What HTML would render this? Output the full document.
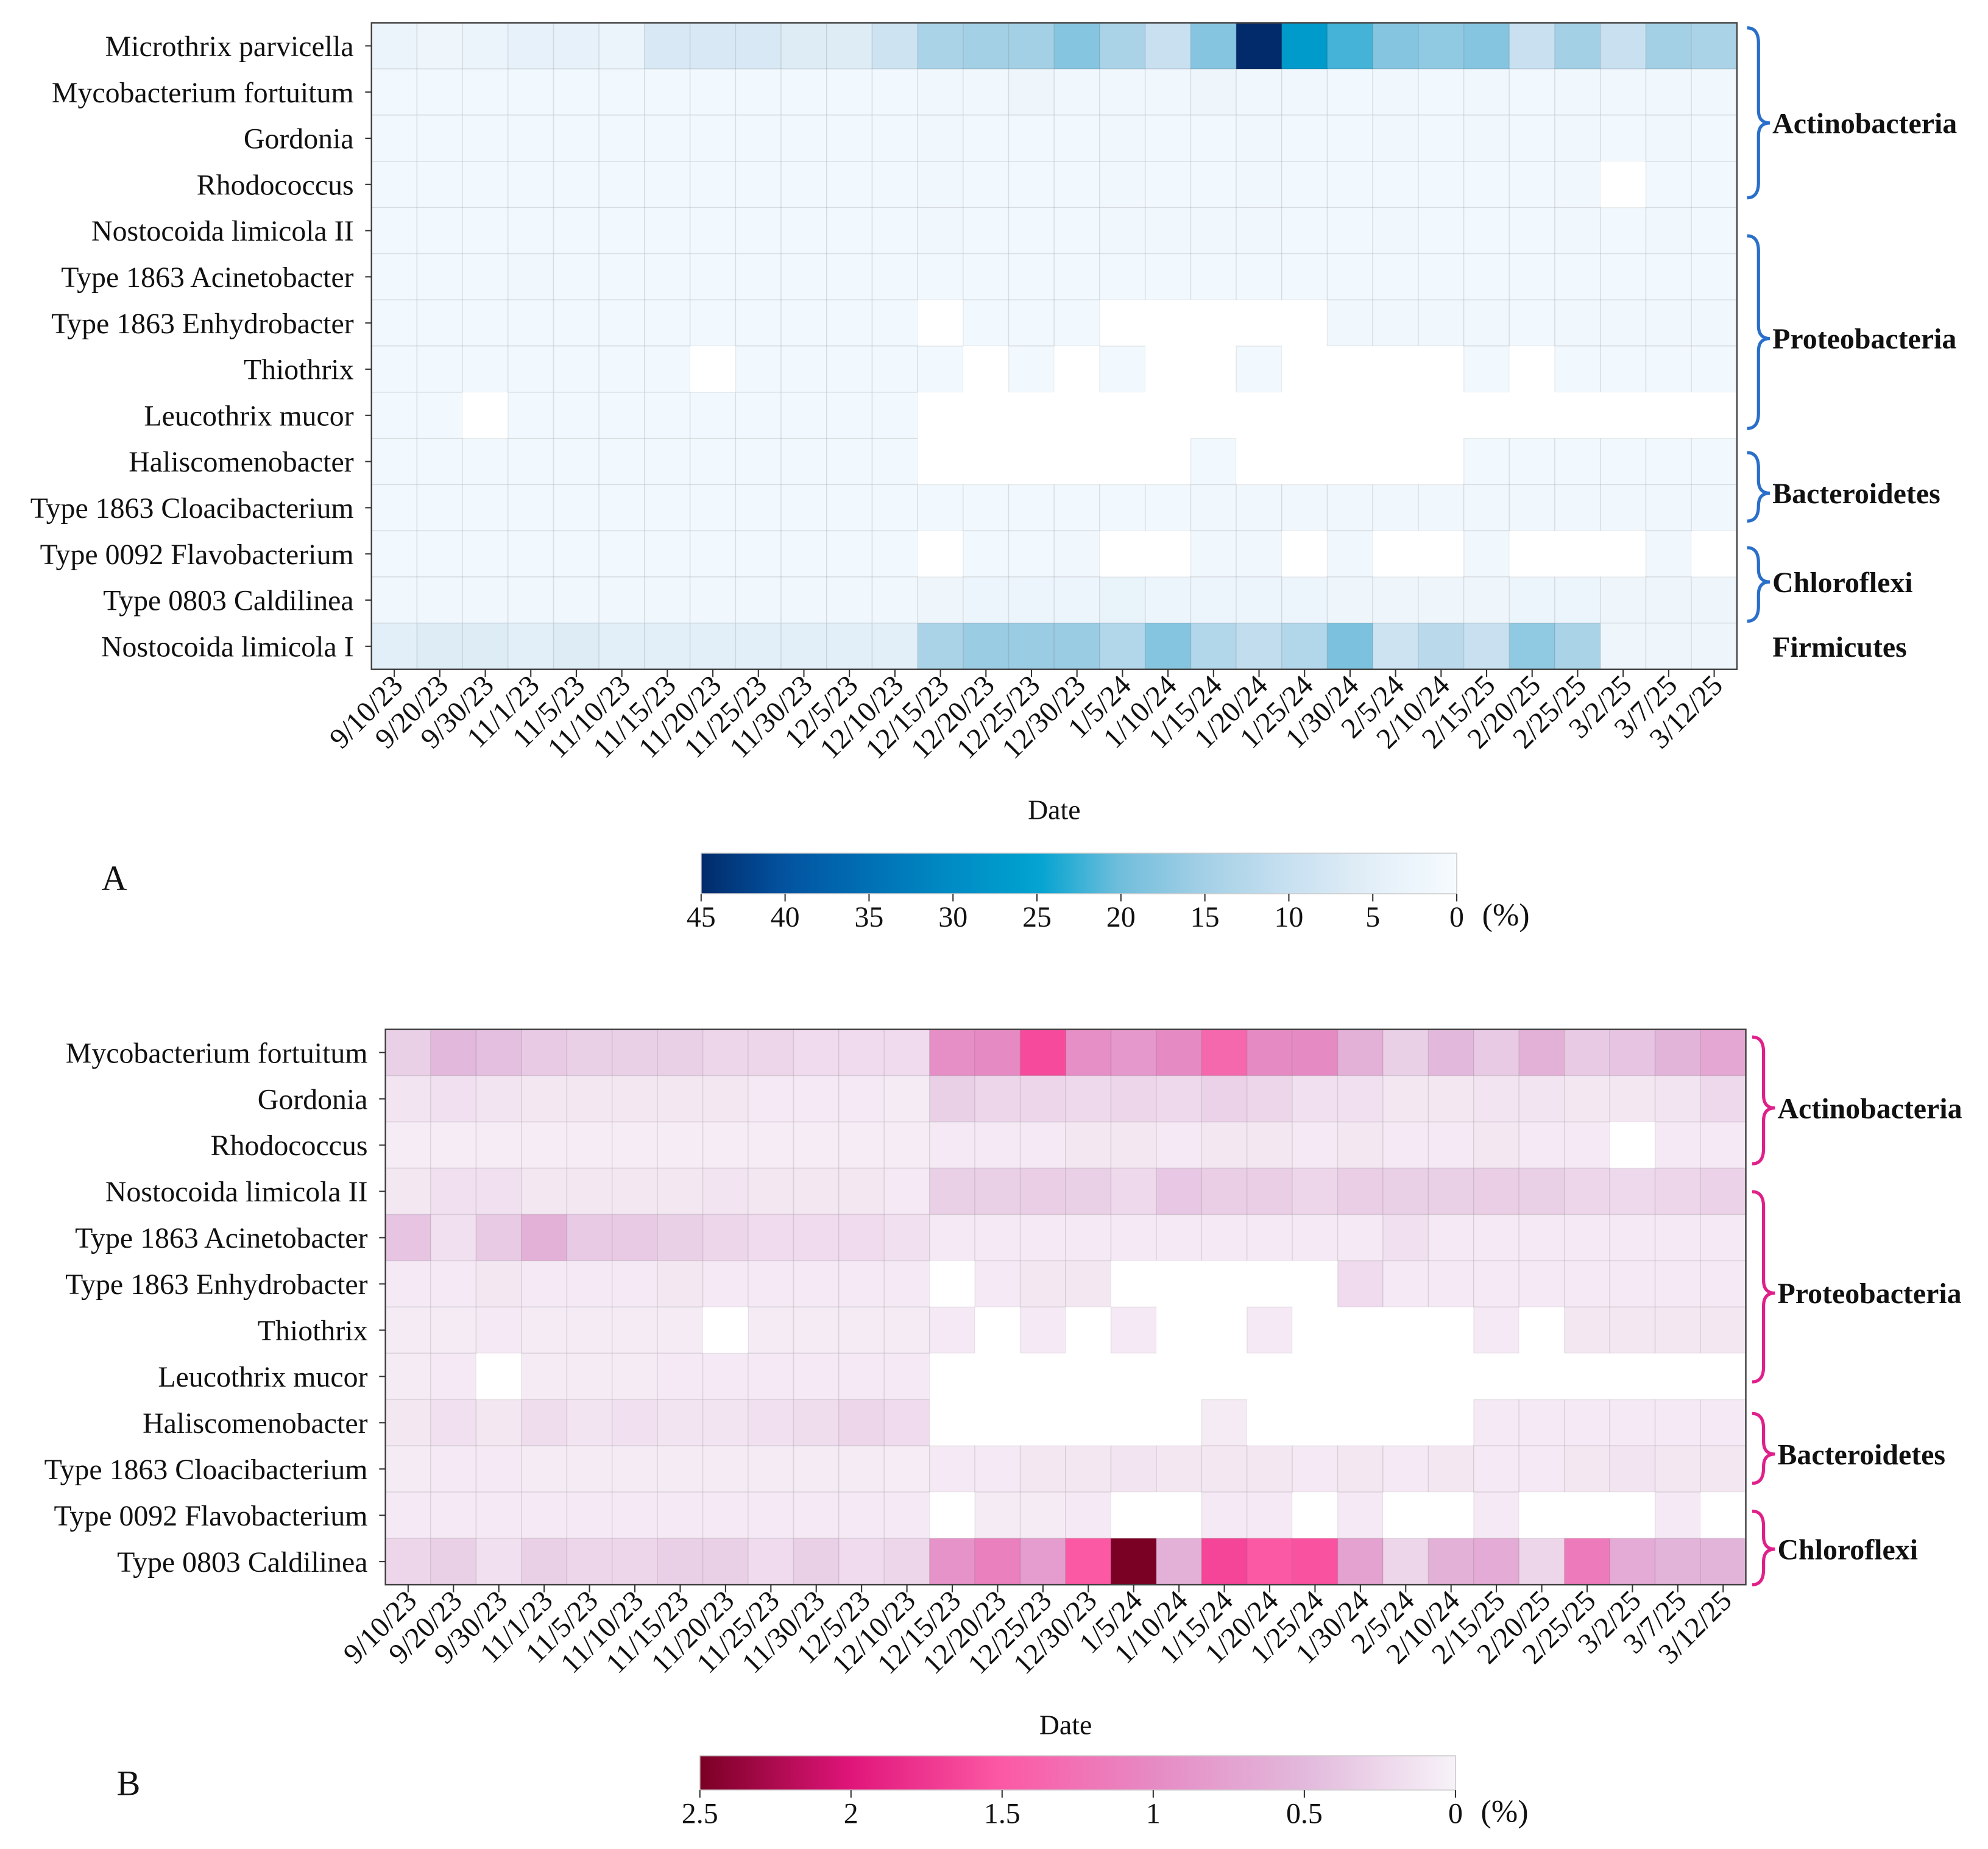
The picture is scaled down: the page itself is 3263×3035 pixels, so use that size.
<!DOCTYPE html>
<html><head><meta charset="utf-8"><style>
html,body{margin:0;padding:0;background:#fff}
svg{display:block}
text{font-family:"Liberation Serif",serif;fill:#111}
</style></head><body>
<svg id="fig" width="3263" height="3035" viewBox="0 0 1568 1458.5" xmlns="http://www.w3.org/2000/svg"></svg>
<script>
const dates=["9/10/23","9/20/23","9/30/23","11/1/23","11/5/23","11/10/23","11/15/23","11/20/23","11/25/23","11/30/23","12/5/23","12/10/23","12/15/23","12/20/23","12/25/23","12/30/23","1/5/24","1/10/24","1/15/24","1/20/24","1/25/24","1/30/24","2/5/24","2/10/24","2/15/25","2/20/25","2/25/25","3/2/25","3/7/25","3/12/25"];
const taxaA=["Microthrix parvicella","Mycobacterium fortuitum","Gordonia","Rhodococcus","Nostocoida limicola II","Type 1863 Acinetobacter","Type 1863 Enhydrobacter","Thiothrix","Leucothrix mucor","Haliscomenobacter","Type 1863 Cloacibacterium","Type 0092 Flavobacterium","Type 0803 Caldilinea","Nostocoida limicola I"];
const taxaB=["Mycobacterium fortuitum","Gordonia","Rhodococcus","Nostocoida limicola II","Type 1863 Acinetobacter","Type 1863 Enhydrobacter","Thiothrix","Leucothrix mucor","Haliscomenobacter","Type 1863 Cloacibacterium","Type 0092 Flavobacterium","Type 0803 Caldilinea"];
const N=null;
const valuesA=[
[3,2,3,4,4,3,7,7,7,6,6,9,14,15,15,18,14,10,18,45,27,22,18,17,18,10,15,10,15,14],
[1,1,1,1,1,1,1,1,1,1,1,1,1.5,1.5,2,1.5,1.5,1.5,2,1.5,1.5,1,1.5,1,1.5,1,1.5,1.5,1.5,1.5],
[1,1,1,1,1,1,1,1,1,1,1,1,1.5,1,1,1,1.5,1,1,1.5,1,1,1.5,1,1.5,1,1.5,1,1.5,1],
[1,1,1,1,1,1,1,1,1,1,1,1,1.5,1,1,1,1.5,1,1,1.5,1,1,1,1,1,1,1.5,N,1,1],
[1,1,1,1,1,1,1,1,1,1,1,1,1.5,1,1,1,1.5,1.5,1.5,1.5,1,1,1.5,1,1,1,1.5,1,1.5,1],
[1,1,1,1.5,1,1,1,1,1,1,1,1,1,1,1,1,1,1,1,1,1,1,1,1,1,1,1,1,1,1],
[1,1,1,1,1,1,1,1,1,1,1,1,N,1,1,1,N,N,N,N,N,1.5,1.5,1.5,1.5,1,1.5,1.5,1.5,1.5],
[1,1,1,1,1,1,1,N,1,1,1,1,1,N,1,N,1,N,N,1,N,N,N,N,1,N,1,1,1,1],
[1,1,N,1,1,1,1,1,1,1,1,1,N,N,N,N,N,N,N,N,N,N,N,N,N,N,N,N,N,N],
[1,1,1,1,1,1,1,1,1,1,1,1,N,N,N,N,N,N,1,N,N,N,N,N,1,1,1,1,1,1],
[1,1,1,1,1,1,1,1,1,1,1,1,1,1,1,1,1,1,1.5,1.5,1.5,1.5,1.5,1.5,1.5,1.5,1.5,1.5,1.5,1.5],
[1,1,1,1,1,1,1,1,1,1,1,1,N,1,1,1.5,N,N,1.5,1.5,N,1.5,N,N,1.5,N,N,N,1.5,N],
[1.5,1.5,1.5,1.5,1.5,1.5,1.5,1.5,1.5,1.5,1.5,1.5,2,2.5,2.5,2.5,3.5,2.5,2.5,2.5,2.5,2,2,2,2,2.5,2.5,2,2,2],
[5,6,6,5,6,5,5,5,5,5,5,5,14,16,16,16,13,18,13,11,13,19,9,12,10,17,14,2,2,2]];
const valuesB=[
[0.3,0.5,0.45,0.35,0.3,0.3,0.3,0.25,0.25,0.2,0.2,0.2,0.95,1.0,1.6,0.95,0.85,1.0,1.35,1.0,1.0,0.6,0.3,0.5,0.35,0.6,0.35,0.4,0.55,0.7],
[0.12,0.15,0.12,0.1,0.1,0.1,0.1,0.1,0.08,0.08,0.08,0.06,0.3,0.25,0.25,0.22,0.25,0.22,0.28,0.25,0.15,0.15,0.1,0.1,0.12,0.12,0.1,0.1,0.12,0.22],
[0.05,0.05,0.05,0.05,0.05,0.05,0.05,0.05,0.05,0.05,0.05,0.05,0.08,0.08,0.08,0.1,0.1,0.08,0.1,0.1,0.08,0.1,0.08,0.08,0.1,0.08,0.08,N,0.08,0.08],
[0.1,0.15,0.15,0.1,0.1,0.1,0.1,0.12,0.1,0.1,0.1,0.08,0.3,0.3,0.32,0.3,0.22,0.38,0.32,0.32,0.25,0.32,0.3,0.3,0.32,0.3,0.25,0.22,0.25,0.28],
[0.4,0.15,0.35,0.6,0.35,0.35,0.3,0.25,0.2,0.2,0.2,0.15,0.08,0.08,0.08,0.08,0.08,0.08,0.08,0.08,0.08,0.08,0.15,0.08,0.08,0.08,0.08,0.08,0.08,0.08],
[0.08,0.08,0.1,0.08,0.08,0.08,0.1,0.08,0.08,0.08,0.08,0.08,N,0.08,0.1,0.1,N,N,N,N,N,0.2,0.08,0.08,0.08,0.08,0.08,0.08,0.08,0.08],
[0.06,0.06,0.08,0.06,0.06,0.06,0.06,N,0.06,0.06,0.06,0.06,0.08,N,0.08,N,0.08,N,N,0.08,N,N,N,N,0.08,N,0.1,0.1,0.1,0.1],
[0.06,0.08,N,0.06,0.06,0.06,0.08,0.08,0.08,0.08,0.08,0.08,N,N,N,N,N,N,N,N,N,N,N,N,N,N,N,N,N,N],
[0.1,0.15,0.1,0.18,0.12,0.15,0.12,0.12,0.15,0.18,0.25,0.2,N,N,N,N,N,N,0.06,N,N,N,N,N,0.08,0.08,0.08,0.08,0.08,0.08],
[0.06,0.08,0.08,0.06,0.06,0.06,0.06,0.06,0.06,0.06,0.06,0.05,0.08,0.08,0.1,0.1,0.12,0.1,0.1,0.1,0.08,0.1,0.08,0.1,0.08,0.08,0.1,0.12,0.1,0.1],
[0.08,0.08,0.08,0.08,0.08,0.08,0.08,0.08,0.08,0.08,0.08,0.08,N,0.06,0.06,0.08,N,N,0.08,0.08,N,0.08,N,N,0.08,N,N,N,0.08,N],
[0.25,0.3,0.15,0.3,0.25,0.25,0.3,0.3,0.2,0.3,0.2,0.25,0.9,1.1,0.8,1.5,2.5,0.6,1.65,1.5,1.55,0.75,0.25,0.6,0.65,0.25,1.15,0.65,0.55,0.55]];
const ticksA=["45","40","35","30","25","20","15","10","5","0"];
const ticksB=["2.5","2","1.5","1","0.5","0"];

const stopsA=[[0,"#f6fbff"],[5,"#e3eff8"],[10,"#c8e0f0"],[15,"#a4d0e6"],[20,"#72bedc"],[25,"#00a3d0"],[30,"#008cc4"],[35,"#0070b4"],[40,"#0353a0"],[45,"#012b6b"]];
const stopsB=[[0,"#f7f2f8"],[0.5,"#e2b9dc"],[1,"#e68ac4"],[1.5,"#fc59a5"],[2,"#e0157a"],[2.5,"#7a0024"]];
function hx(c){return [1,3,5].map(i=>parseInt(c.substr(i,2),16));}
function cmap(stops,v){
  if(v<=stops[0][0])return stops[0][1];
  for(let i=1;i<stops.length;i++){if(v<=stops[i][0]){const a=stops[i-1],b=stops[i];const t=(v-a[0])/(b[0]-a[0]);const ca=hx(a[1]),cb=hx(b[1]);return "rgb("+ca.map((x,k)=>Math.round(x+(cb[k]-x)*t)).join(",")+")";}}
  return stops[stops.length-1][1];
}
const NS="http://www.w3.org/2000/svg";
const svg=document.getElementById('fig');
function el(tag,attrs,parent,txt){const e=document.createElementNS(NS,tag);for(const k in attrs)e.setAttribute(k,attrs[k]);if(txt!==undefined)e.textContent=txt;(parent||svg).appendChild(e);return e;}

function panel(cfg){
  const g=el('g',{});
  
  
  const nR=cfg.taxa.length,nC=dates.length;
  const cw=(cfg.x1-cfg.x0)/nC,ch=(cfg.y1-cfg.y0)/nR;
  const xs=i=>cfg.x0+i*cw, ys=j=>cfg.y0+j*ch;
  for(let j=0;j<nR;j++)for(let i=0;i<nC;i++){
    const v=cfg.values[j][i];
    const r=el('rect',{x:xs(i),y:ys(j),width:cw,height:ch,fill:v===null?'#ffffff':cmap(cfg.stops,v),stroke:v===null?'none':'rgba(0,0,0,0.07)','stroke-width':0.8},g);
    
    
  }
  el('rect',{x:cfg.x0,y:cfg.y0,width:cfg.x1-cfg.x0,height:cfg.y1-cfg.y0,fill:'none',stroke:'#444','stroke-width':1.2},g);
  for(let j=0;j<nR;j++){
    const y=ys(j)+ch/2;
    el('line',{x1:cfg.x0-5,x2:cfg.x0,y1:y,y2:y,stroke:'#333','stroke-width':1},g);
    const t=el('text',{x:cfg.x0-14,y:y+8,'text-anchor':'end','font-size':23},g,cfg.taxa[j]);
    
    
  }
  for(let i=0;i<nC;i++){
    const x=xs(i)+cw/2;
    el('line',{x1:x,x2:x,y1:cfg.y1,y2:cfg.y1+6,stroke:'#333','stroke-width':1},g);
    const t=el('text',{x:0,y:0,'text-anchor':'end','font-size':23,transform:`translate(${x+8},${cfg.y1+14}) rotate(-45)`},g,dates[i]);
    
    
  }
  const xl=el('text',{x:(cfg.x0+cfg.x1)/2,y:cfg.y1+118,'text-anchor':'middle','font-size':22},g,'Date');
  
  
  const pl=el('text',{x:cfg.lx,y:cfg.ly,'font-size':28},g,cfg.letter);
  
  
  const gid='grad'+cfg.letter;
  const defs=el('defs',{},g);const lg=el('linearGradient',{id:gid,x1:0,x2:1,y1:0,y2:0},defs);
  const vmax=cfg.stops[cfg.stops.length-1][0];
  for(let k=0;k<=40;k++){const v=vmax*(1-k/40);el('stop',{offset:k/40,'stop-color':cmap(cfg.stops,v)},lg);}
  const cb=el('rect',{x:cfg.cb[0],y:cfg.cb[1],width:cfg.cb[2],height:cfg.cb[3],fill:`url(#${gid})`,stroke:'#ccc','stroke-width':0.8},g);
  
  
  const nt=cfg.ticks.length;
  for(let k=0;k<nt;k++){
    const x=cfg.cb[0]+cfg.cb[2]*k/(nt-1);
    el('line',{x1:x,x2:x,y1:cfg.cb[1]+cfg.cb[3],y2:cfg.cb[1]+cfg.cb[3]+6,stroke:'#333','stroke-width':1},g);
    const t=el('text',{x:x,y:cfg.cb[1]+cfg.cb[3]+26,'text-anchor':'middle','font-size':23},g,cfg.ticks[k]);
    
    
  }
  const u=el('text',{x:cfg.cb[0]+cfg.cb[2]+20,y:cfg.cb[1]+cfg.cb[3]+25,'font-size':25},g,'(%)');
  
  
  cfg.groups.forEach(gr=>{
    if(gr.b){
      const [a,b]=gr.b,m=gr.m,x=cfg.bx;
      const p=`M${x},${a} Q${x+9},${a} ${x+9},${a+12} L${x+9},${m-10} Q${x+9},${m} ${x+18},${m} Q${x+9},${m} ${x+9},${m+10} L${x+9},${b-12} Q${x+9},${b} ${x},${b}`;
      const pe=el('path',{d:p,fill:'none',stroke:cfg.bc,'stroke-width':2.5},g);
      
      
    }
    const t=el('text',{x:cfg.bx+20,y:gr.m+8,'font-size':23,'font-weight':'bold'},g,gr.n);
    
    
  });
}
panel({name:'heatmap-a',letter:'A',taxa:taxaA,values:valuesA,stops:stopsA,ticks:ticksA,x0:293,x1:1370,y0:18,y1:528,lx:80,ly:702,cb:[553,673,596,32],bx:1378,bc:'#2a6fc9',
 groups:[{n:'Actinobacteria',b:[22,156],m:97},{n:'Proteobacteria',b:[186,338],m:267},{n:'Bacteroidetes',b:[357,411],m:389},{n:'Chloroflexi',b:[432,490],m:459},{n:'Firmicutes',m:510}]});
panel({name:'heatmap-b',letter:'B',taxa:taxaB,values:valuesB,stops:stopsB,ticks:ticksB,x0:304,x1:1377,y0:812,y1:1250,lx:92,ly:1416,cb:[552,1385,596,27],bx:1382,bc:'#e0208a',
 groups:[{n:'Actinobacteria',b:[818,918],m:874},{n:'Proteobacteria',b:[940,1090],m:1020},{n:'Bacteroidetes',b:[1115,1170],m:1147},{n:'Chloroflexi',b:[1192,1250],m:1222}]});
</script>
</body></html>
